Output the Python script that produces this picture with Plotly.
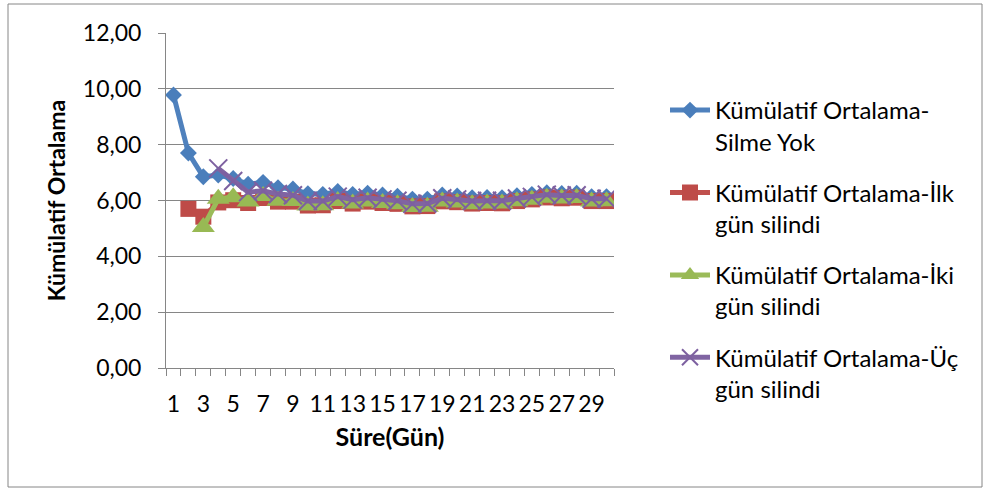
import plotly.graph_objects as go

# Day index (Süre, gün)
days = list(range(1, 31))
tick_days = list(range(1, 30, 2))

# Cumulative means for each deletion scenario
silme_yok = [9.78, 7.70, 6.85, 6.91, 6.79, 6.58, 6.65, 6.46, 6.41, 6.24,
             6.22, 6.32, 6.22, 6.26, 6.20, 6.15, 6.05, 6.05, 6.20, 6.16,
             6.10, 6.11, 6.10, 6.17, 6.22, 6.28, 6.25, 6.26, 6.14, 6.14]
ilk_gun = [None, 5.70, 5.42, 5.93, 6.01, 5.91, 6.09, 5.96, 5.96, 5.82,
           5.83, 5.98, 5.89, 5.96, 5.91, 5.88, 5.79, 5.80, 5.97, 5.94,
           5.89, 5.91, 5.90, 5.98, 6.04, 6.11, 6.08, 6.10, 5.98, 5.98]
iki_gun = [None, None, 5.05, 6.06, 6.12, 5.96, 6.16, 5.99, 5.98, 5.82,
           5.83, 5.98, 5.89, 5.96, 5.91, 5.87, 5.77, 5.78, 5.96, 5.93,
           5.87, 5.89, 5.89, 5.97, 6.03, 6.10, 6.07, 6.09, 5.96, 5.97]
uc_gun = [None, None, None, 7.15, 6.70, 6.30, 6.35, 6.23, 6.19, 5.98,
          5.98, 6.14, 6.03, 6.10, 6.04, 5.99, 5.88, 5.89, 6.08, 6.04,
          5.98, 5.99, 5.99, 6.07, 6.13, 6.21, 6.18, 6.19, 6.06, 6.06]

series_names = [
    "Kümülatif Ortalama-<br>Silme Yok",
    "Kümülatif Ortalama-İlk<br>gün silindi",
    "Kümülatif Ortalama-İki<br>gün silindi",
    "Kümülatif Ortalama-Üç<br>gün silindi",
]

FONT = "Lato"
GRID = "#868686"

fig = go.Figure()

fig.add_trace(go.Scatter(
    x=days, y=silme_yok, name=series_names[0], legendgroup="g1",
    mode="lines+markers",
    line=dict(color="#4F81BD", width=5),
    marker=dict(symbol="diamond", size=13, color="#4A7EBB"),
))
fig.add_trace(go.Scatter(
    x=days, y=ilk_gun, name=series_names[1], legendgroup="g2",
    mode="lines+markers",
    line=dict(color="#C0504D", width=5),
    marker=dict(symbol="square", size=16, color="#BE4B48"),
))
fig.add_trace(go.Scatter(
    x=days, y=iki_gun, name=series_names[2], legendgroup="g3",
    mode="lines+markers",
    line=dict(color="#9BBB59", width=5),
    marker=dict(symbol="triangle-up", size=20, color="#98B954"),
))
fig.add_trace(go.Scatter(
    x=days, y=uc_gun, name=series_names[3], legendgroup="g4",
    mode="lines+markers",
    line=dict(color="#8064A2", width=5),
    marker=dict(symbol="x-thin", size=18, color="#7D60A0",
                line=dict(color="#7D60A0", width=2)),
))

# Plot area spans 166..614 px horizontally and 33..368 px vertically
L, R, T, B = 166, 614, 33, 368
W, H = 987, 491


def px(x):
    return (x - L) / (R - L)


def py(y):
    return (B - y) / (B - T)


fig.update_layout(
    width=W, height=H,
    margin=dict(l=L, r=W - R, t=T, b=H - B, pad=0),
    paper_bgcolor="white", plot_bgcolor="white",
    separators=",.",
    font=dict(family=FONT, size=23, color="black"),
    showlegend=True,
    legend=dict(
        x=px(665), y=py(88), xanchor="left", yanchor="top",
        valign="top", tracegroupgap=17, itemwidth=40,
        font=dict(family=FONT, size=24, color="black"),
        bgcolor="rgba(0,0,0,0)",
    ),
    xaxis=dict(
        range=[0.5, 30.5], tickvals=tick_days, ticktext=[str(d) for d in tick_days],
        ticks="", showgrid=False, zeroline=False,
        showline=True, linecolor=GRID, linewidth=1,
        minor=dict(tick0=0.5, dtick=1, ticks="outside", ticklen=7,
                   tickcolor=GRID, showgrid=False),
        ticklabelstandoff=15,
        tickfont=dict(family=FONT, size=23),
        title=dict(text="<b>Süre(Gün)</b>", font=dict(family=FONT, size=25), standoff=12),
    ),
    yaxis=dict(
        range=[0, 12], dtick=2, tickformat=".2f",
        showgrid=True, gridcolor=GRID, gridwidth=1,
        zeroline=False, showline=True, linecolor=GRID, linewidth=1,
        ticks="outside", ticklen=7, tickcolor=GRID,
        ticklabelstandoff=12,
        tickfont=dict(family=FONT, size=23),
        title=dict(text="<b>Kümülatif Ortalama</b>", font=dict(family=FONT, size=23), standoff=10),
    ),
    shapes=[
        dict(type="rect", xref="paper", yref="paper",
             x0=px(8), x1=px(982), y0=py(487), y1=py(4),
             line=dict(color=GRID, width=1), fillcolor="rgba(0,0,0,0)", layer="below"),
    ],
)

fig.write_html("out.html")
